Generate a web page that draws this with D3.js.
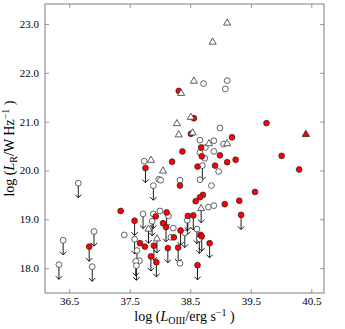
<!DOCTYPE html>
<html>
<head>
<meta charset="utf-8">
<script src="https://cdn.jsdelivr.net/npm/d3@7"></script>
<style>
body{margin:0;background:#fff;}
svg{display:block;}
text{font-family:"Liberation Serif","DejaVu Serif",serif;fill:#000;}
</style>
</head>
<body>
<svg id="chart" width="345" height="329"></svg>
<script>
// Tick labels
const xTicks = [36.5, 37.5, 38.5, 39.5, 40.5];
const yTicks = [18.0, 19.0, 20.0, 21.0, 22.0, 23.0];

// Open circles (detections)
const openCircles = [
  [38.72,21.78],[39.11,21.84],[39.08,21.67],[38.99,20.87],[38.66,20.62],[38.89,20.61],
  [39.05,20.54],[38.75,20.47],[38.66,20.37],[38.89,20.39],[38.74,20.25],[38.97,19.98],
  [37.74,20.19],[37.98,19.82],[38.01,19.80],[38.33,19.80],[38.66,19.81],[38.85,19.69],
  [38.80,19.25],[38.89,19.28],[37.41,18.68],[38.00,19.17],[38.14,19.07],[38.22,18.82],
  [38.18,18.63],[38.33,18.10],[37.66,18.15]
];
// Open circles (upper limits)
const openCirclesUL = [
  [38.70,20.10],[37.89,19.69],[36.65,19.74],[36.40,18.57],[36.33,18.07],[36.91,18.75],
  [36.88,18.03],[37.72,19.11],[37.89,19.11],[37.87,18.96],[37.58,18.59],[37.62,18.36],
  [37.60,18.14],[37.61,18.05],[38.41,18.72],[38.45,18.98],[38.61,18.80],[38.65,18.60]
];
// Red filled circles (detections)
const redCircles = [
  [38.31,21.63],[38.56,21.07],[38.51,20.75],[39.76,20.97],[39.19,20.68],[38.68,20.47],
  [38.37,20.39],[38.99,20.31],[38.69,20.29],[39.25,20.22],[39.11,20.17],[38.20,20.18],
  [38.91,20.10],[38.62,20.08],[40.01,20.30],[40.30,20.02],[38.33,19.69],[39.57,19.56],
  [38.71,19.50],[38.66,19.45],[38.59,19.37],[39.07,19.31],[39.31,19.38],[37.35,19.17],
  [37.67,18.51],[37.75,18.44],[38.05,18.92],[37.93,19.06],[38.67,18.68],[38.23,18.63]
];
// Red filled circles (upper limits)
const redCirclesUL = [
  [39.34,19.09],[37.58,18.97],[36.83,18.44],[37.76,20.05],[37.90,18.46],[37.85,18.24],
  [37.94,18.12],[38.13,18.41],[38.11,19.14],[38.10,18.84],[38.34,18.77],[38.30,18.42],
  [38.46,19.07],[38.55,19.08],[38.62,18.06],[38.69,18.65],[38.82,18.51]
];
// Open triangles (detections)
const openTriangles = [
  [39.11,23.03],[38.87,22.64],[38.56,21.84],[38.35,21.59],[38.51,21.10],[38.28,20.97],
  [38.31,20.74],[38.54,20.78],[38.81,20.56],[39.11,20.56],[37.85,20.22],[38.05,20.00]
];
// Open triangles (upper limits)
const openTrianglesUL = [[38.68,19.23],[37.95,18.61],[37.81,18.81]];
// Red filled triangles
const redTriangles = [[40.41,20.75]];

const margin = {left:45, right:21, top:4, bottom:36};
const W = 345, H = 329;
const svg = d3.select("#chart");
const x = d3.scaleLinear().domain([36.1, 40.71]).range([margin.left, W - margin.right]);
const y = d3.scaleLinear().domain([17.49, 23.41]).range([H - margin.bottom, margin.top]);

const frameColor = "#7f7f7f";
// axes
const gx = svg.append("g").attr("transform", `translate(0,${H - margin.bottom})`)
  .call(d3.axisBottom(x).tickValues(xTicks).tickFormat(d3.format(".1f")).tickSizeInner(-4).tickSizeOuter(0).tickPadding(4));
const gxt = svg.append("g").attr("transform", `translate(0,${margin.top})`)
  .call(d3.axisTop(x).tickValues(xTicks).tickFormat("").tickSizeInner(-4).tickSizeOuter(0));
const gy = svg.append("g").attr("transform", `translate(${margin.left},0)`)
  .call(d3.axisLeft(y).tickValues(yTicks).tickFormat(d3.format(".1f")).tickSizeInner(-4).tickSizeOuter(0).tickPadding(6));
const gyr = svg.append("g").attr("transform", `translate(${W - margin.right},0)`)
  .call(d3.axisRight(y).tickValues(yTicks).tickFormat("").tickSizeInner(-4).tickSizeOuter(0));
[gx,gxt,gy,gyr].forEach(g=>{
  g.select(".domain").remove();
  g.selectAll(".tick line").attr("stroke", frameColor).attr("stroke-width",0.8);
  g.selectAll(".tick text").style("font-family",'"Liberation Serif",serif').style("font-size","11px").attr("fill","#000");
});

const plot = svg.append("g");
const arrowLen = 0.3;
function drawArrows(data){
  const g = plot.append("g").attr("fill","none").attr("stroke","#000").attr("stroke-width",0.9);
  g.selectAll("line").data(data).join("line")
    .attr("x1", d=>x(d[0])).attr("x2", d=>x(d[0]))
    .attr("y1", d=>y(d[1])).attr("y2", d=>y(d[1]-arrowLen));
  g.selectAll("path").data(data).join("path")
    .attr("d", d=>{ const px=x(d[0]), py=y(d[1]-arrowLen); return `M${px-3.2},${py-3.2}L${px},${py}L${px+3.2},${py-3.2}`; });
}
drawArrows(openCirclesUL.concat(redCirclesUL, openTrianglesUL));

function circles(data, fill){
  plot.append("g").selectAll("circle").data(data).join("circle")
    .attr("cx", d=>x(d[0])).attr("cy", d=>y(d[1])).attr("r", 2.9)
    .attr("fill", fill).attr("stroke", "#222").attr("stroke-width", 0.7);
}
const tri = d3.symbol().type(d3.symbolTriangle).size(22);
function triangles(data, fill, stroke){
  plot.append("g").selectAll("path").data(data).join("path")
    .attr("transform", d=>`translate(${x(d[0])},${y(d[1])+0.5})`).attr("d", tri)
    .attr("fill", fill).attr("stroke", stroke).attr("stroke-width", 0.8);
}
circles(openCircles.concat(openCirclesUL), "#fff");
circles(redCircles.concat(redCirclesUL), "#ff0000");
triangles(openTriangles.concat(openTrianglesUL), "#fff", "#333");
triangles(redTriangles, "#ff0000", "#222");

// frame
svg.append("rect").attr("x", margin.left).attr("y", margin.top)
  .attr("width", W - margin.left - margin.right).attr("height", H - margin.top - margin.bottom)
  .attr("fill","none").attr("stroke", frameColor).attr("stroke-width", 1);

// labels
const xl = svg.append("text").attr("x", (margin.left + W - margin.right)/2).attr("y", 321)
  .attr("text-anchor","middle").style("font-size","14px");
xl.append("tspan").text("log (");
xl.append("tspan").style("font-style","italic").text("L");
xl.append("tspan").attr("dy",3).style("font-size","10px").text("OIII");
xl.append("tspan").attr("dy",-3).text("/erg s");
xl.append("tspan").attr("dy",-5).style("font-size","10px").text("−1");
xl.append("tspan").attr("dy",5).text(" )");

const yl = svg.append("text").attr("transform", `translate(14,${(margin.top + H - margin.bottom)/2}) rotate(-90)`)
  .attr("text-anchor","middle").style("font-size","14px");
yl.append("tspan").text("log (");
yl.append("tspan").style("font-style","italic").text("L");
yl.append("tspan").attr("dy",3).style("font-size","10px").text("R");
yl.append("tspan").attr("dy",-3).text("/W Hz");
yl.append("tspan").attr("dy",-5).style("font-size","10px").text("−1");
yl.append("tspan").attr("dy",5).text(" )");
</script>
</body>
</html>
